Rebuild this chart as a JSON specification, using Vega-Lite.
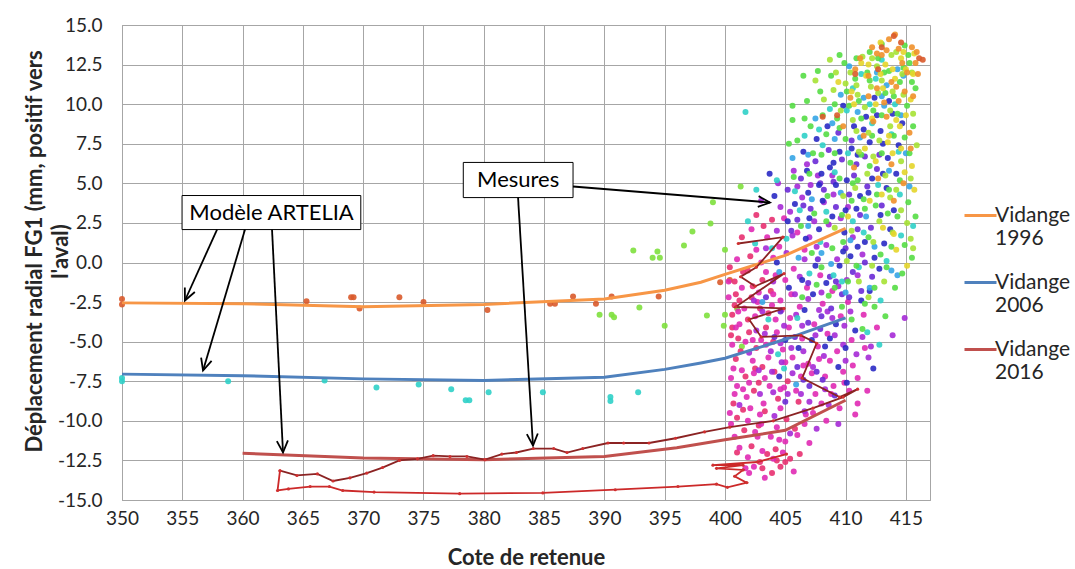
{
"$schema": "https://vega.github.io/schema/vega-lite/v6.json",
"width": 808, "height": 475,
"autosize": {"type": "none"},
"padding": {"left": 122, "top": 25, "right": 145, "bottom": 69},
"background": "white",
"config": {
 "font": "Lato",
 "view": {"stroke": "#a6a6a6", "strokeWidth": 1},
 "axis": {"gridColor": "#a6a6a6", "gridWidth": 1, "domainColor": "#a6a6a6", "ticks": false, "labelFont": "Lato", "labelFontSize": 19, "labelColor": "#262626", "titleFont": "Lato", "titleFontSize": 22, "titleFontWeight": "bold", "titleColor": "#262626", "labelOverlap": false, "labelFlush": false}
},
"datasets": {
 "pts": [
  {"x":350,"y":-2.3,"t":1996},{"x":350,"y":-2.65,"t":1996},{"x":365.3,"y":-2.45,"t":1996},{"x":369.2,"y":-2.2,"t":1996},{"x":369.7,"y":-2.9,"t":1996},{"x":373,"y":-2.2,"t":1996},{"x":375,"y":-2.5,"t":1996},{"x":380.3,"y":-3.0,"t":1996},{"x":385.5,"y":-2.6,"t":1996},{"x":385.9,"y":-2.6,"t":1996},{"x":387.4,"y":-2.15,"t":1996},{"x":389.3,"y":-2.6,"t":1996},{"x":390.6,"y":-2.15,"t":1996},{"x":394.5,"y":-2.15,"t":1996},{"x":399.6,"y":-1.25,"t":1996},{"x":400.4,"y":-1.1,"t":1996},{"x":369.0,"y":-2.2,"t":1996},
  {"x":350,"y":-7.3,"t":2006},{"x":350,"y":-7.5,"t":2006},{"x":358.8,"y":-7.5,"t":2006},{"x":366.8,"y":-7.45,"t":2006},{"x":371.1,"y":-7.9,"t":2006},{"x":374.6,"y":-7.7,"t":2006},{"x":377.3,"y":-8.0,"t":2006},{"x":378.5,"y":-8.7,"t":2006},{"x":378.8,"y":-8.7,"t":2006},{"x":380.4,"y":-8.2,"t":2006},{"x":384.9,"y":-8.2,"t":2006},{"x":390.5,"y":-8.5,"t":2006},{"x":390.5,"y":-8.75,"t":2006},{"x":392.8,"y":-8.2,"t":2006},{"x":401.7,"y":9.5,"t":2006},
  {"x":392.4,"y":0.76,"t":2003},{"x":394.4,"y":0.7,"t":2003},{"x":394,"y":0.3,"t":2003},{"x":394.6,"y":0.3,"t":2003},{"x":396.6,"y":1.07,"t":2003},{"x":397.3,"y":1.96,"t":2003},{"x":398.8,"y":2.46,"t":2003},{"x":399,"y":3.8,"t":2003},{"x":401.3,"y":4.8,"t":2003},{"x":400,"y":0.8,"t":2003},{"x":389.6,"y":-3.3,"t":2003},{"x":390.6,"y":-3.3,"t":2003},{"x":390.8,"y":-3.45,"t":2003},{"x":392.9,"y":-2.84,"t":2003},{"x":395,"y":-4.0,"t":2003},{"x":398.5,"y":-3.35,"t":2003},{"x":399.9,"y":-4.0,"t":2003},{"x":400,"y":-3.3,"t":2003},{"x":401.4,"y":-5.3,"t":2003},{"x":401,"y":-2.9,"t":2003},
  {"x":400.8,"y":-1.2,"t":2017},{"x":401.5,"y":-0.6,"t":2017},{"x":402.3,"y":-1.5,"t":2017},{"x":401.2,"y":-2.4,"t":2017},{"x":402.9,"y":-2.9,"t":2017},{"x":400.6,"y":-3.3,"t":2017},{"x":401.9,"y":-3.6,"t":2017},{"x":403.4,"y":-4.1,"t":2017},{"x":401.1,"y":-4.8,"t":2017},{"x":402.6,"y":-5.4,"t":2017},{"x":400.9,"y":-6.1,"t":2017},{"x":403.1,"y":-6.6,"t":2017},{"x":401.7,"y":-7.2,"t":2017},{"x":402.4,"y":-8.1,"t":2017},{"x":404.0,"y":-5.0,"t":2017},{"x":403.8,"y":-1.8,"t":2017},{"x":400.4,"y":-0.3,"t":2017},{"x":402.1,"y":0.4,"t":2017},{"x":401.4,"y":1.6,"t":2017},{"x":403.2,"y":2.3,"t":2017},{"x":402.6,"y":3.0,"t":2017},{"x":403.9,"y":2.7,"t":2017},{"x":401.0,"y":-9.8,"t":2017},{"x":402.2,"y":-11.6,"t":2017},{"x":403.5,"y":-12.1,"t":2017},{"x":404.2,"y":-11.8,"t":2017},{"x":402.9,"y":-12.6,"t":2017},{"x":404.6,"y":-12.9,"t":2017},{"x":403.9,"y":-13.3,"t":2017},{"x":405.4,"y":-12.4,"t":2017},{"x":406.2,"y":-12.1,"t":2017},{"x":401.6,"y":-10.6,"t":2017},{"x":400.7,"y":-8.9,"t":2017},{"x":403.3,"y":-9.4,"t":2017},{"x":404.4,"y":-8.6,"t":2017},{"x":405.1,"y":-9.9,"t":2017},{"x":400.9,"y":-2.0,"t":2017},{"x":402.0,"y":-4.4,"t":2017},{"x":403.6,"y":-3.2,"t":2017},{"x":401.3,"y":-5.6,"t":2017},{"x":400.5,"y":-4.6,"t":2017},{"x":402.8,"y":-7.6,"t":2017},{"x":404.1,"y":-6.9,"t":2017},{"x":405.2,"y":-7.5,"t":2017},{"x":406.1,"y":-8.8,"t":2017},{"x":405.8,"y":-10.5,"t":2017},
  {"x":401.9,"y":-0.5,"t":2017},{"x":403.1,"y":-1.1,"t":2017},{"x":400.6,"y":-4.1,"t":2017},{"x":402.5,"y":-6.7,"t":2017},{"x":401.5,"y":-9.3,"t":2017},{"x":402.8,"y":-10.3,"t":2017},{"x":404.3,"y":-12.5,"t":2017},{"x":403.1,"y":-13.0,"t":2017},{"x":405.0,"y":-12.6,"t":2017},{"x":401.0,"y":-12.0,"t":2017},{"x":400.8,"y":-2.7,"t":2017},{"x":402.2,"y":-2.2,"t":2017},
  {"x":400.6,"y":-5.2,"t":2016},{"x":401.4,"y":-6.8,"t":2016},{"x":402.1,"y":-9.2,"t":2016},{"x":403.0,"y":-10.2,"t":2016},{"x":400.8,"y":-11.0,"t":2016},{"x":401.9,"y":-12.3,"t":2016},{"x":402.7,"y":-11.0,"t":2016},{"x":404.3,"y":-10.4,"t":2016},{"x":405.0,"y":-11.3,"t":2016},{"x":406.0,"y":-10.9,"t":2016},{"x":406.7,"y":-9.6,"t":2016},{"x":407.5,"y":-8.3,"t":2016},{"x":408.3,"y":-7.2,"t":2016},{"x":406.9,"y":-6.4,"t":2016},{"x":405.6,"y":-6.0,"t":2016},{"x":404.8,"y":-5.5,"t":2016},{"x":403.7,"y":-7.8,"t":2016},{"x":402.3,"y":-6.2,"t":2016},{"x":401.0,"y":-7.8,"t":2016},{"x":400.4,"y":-9.5,"t":2016},{"x":401.8,"y":-8.5,"t":2016},{"x":403.2,"y":-8.9,"t":2016},{"x":404.6,"y":-9.2,"t":2016},{"x":405.9,"y":-8.1,"t":2016},{"x":407.2,"y":-7.0,"t":2016},{"x":408.0,"y":-8.9,"t":2016},{"x":409.0,"y":-7.8,"t":2016},{"x":408.7,"y":-6.2,"t":2016},{"x":407.7,"y":-5.3,"t":2016},{"x":406.4,"y":-4.8,"t":2016},{"x":405.3,"y":-4.1,"t":2016},{"x":404.2,"y":-3.6,"t":2016},{"x":403.0,"y":-4.9,"t":2016},{"x":402.5,"y":-3.4,"t":2016},{"x":401.6,"y":-2.9,"t":2016},{"x":400.3,"y":-2.2,"t":2016},{"x":401.0,"y":0.2,"t":2016},{"x":402.6,"y":0.8,"t":2016},{"x":404.0,"y":0.3,"t":2016},{"x":403.4,"y":-0.6,"t":2016},{"x":405.0,"y":-1.1,"t":2016},{"x":404.6,"y":-2.4,"t":2016},{"x":406.2,"y":-2.8,"t":2016},{"x":407.4,"y":-3.9,"t":2016},{"x":408.5,"y":-4.5,"t":2016},{"x":409.3,"y":-5.6,"t":2016},{"x":409.8,"y":-6.9,"t":2016},{"x":410.3,"y":-8.1,"t":2016},{"x":411.0,"y":-7.3,"t":2016},{"x":410.5,"y":-4.9,"t":2016},{"x":409.6,"y":-3.4,"t":2016},{"x":408.1,"y":-2.6,"t":2016},{"x":406.8,"y":-1.6,"t":2016},{"x":405.7,"y":-0.4,"t":2016},{"x":404.5,"y":1.0,"t":2016},{"x":403.5,"y":1.6,"t":2016},{"x":402.2,"y":2.1,"t":2016},{"x":404.9,"y":2.8,"t":2016},{"x":406.0,"y":1.9,"t":2016},{"x":401.7,"y":-13.0,"t":2016},{"x":403.3,"y":-13.6,"t":2016},{"x":405.7,"y":-13.2,"t":2016},{"x":404.0,"y":-12.4,"t":2016},{"x":402.5,"y":-10.7,"t":2016},{"x":404.9,"y":-7.9,"t":2016},{"x":406.3,"y":-7.2,"t":2016},{"x":403.9,"y":-2.7,"t":2016},{"x":402.8,"y":-1.9,"t":2016},{"x":401.2,"y":-3.9,"t":2016},{"x":400.5,"y":-7.3,"t":2016},{"x":407.0,"y":-11.4,"t":2016},{"x":408.4,"y":-10.0,"t":2016},{"x":409.5,"y":-9.2,"t":2016},{"x":410.8,"y":-9.6,"t":2016},{"x":405.5,"y":-2.0,"t":2016},{"x":406.6,"y":0.8,"t":2016},{"x":407.9,"y":-0.8,"t":2016},{"x":408.9,"y":-1.8,"t":2016},{"x":410.2,"y":-2.5,"t":2016},{"x":411.5,"y":-3.3,"t":2016},{"x":412.6,"y":-4.1,"t":2016},{"x":411.6,"y":-5.4,"t":2016},{"x":411.0,"y":-8.9,"t":2016},{"x":411.8,"y":-8.1,"t":2016},
  {"x":400.9,"y":-4.1,"t":2016},{"x":401.7,"y":-5.0,"t":2016},{"x":402.4,"y":-7.0,"t":2016},{"x":403.6,"y":-6.0,"t":2016},{"x":404.3,"y":-4.4,"t":2016},{"x":400.7,"y":-6.7,"t":2016},{"x":401.5,"y":-8.0,"t":2016},{"x":402.9,"y":-9.6,"t":2016},{"x":403.8,"y":-11.0,"t":2016},{"x":401.2,"y":-11.7,"t":2016},{"x":402.0,"y":-13.3,"t":2016},{"x":404.8,"y":-12.0,"t":2016},{"x":400.5,"y":-10.2,"t":2016},{"x":401.9,"y":-10.0,"t":2016},{"x":403.4,"y":-5.2,"t":2016},{"x":404.7,"y":-3.0,"t":2016},{"x":402.7,"y":-2.5,"t":2016},{"x":401.4,"y":-1.6,"t":2016},{"x":400.3,"y":-1.2,"t":2016},{"x":403.0,"y":0.0,"t":2016},{"x":404.2,"y":-0.8,"t":2016},{"x":405.4,"y":-3.5,"t":2016},{"x":406.5,"y":-6.5,"t":2016},{"x":407.8,"y":-6.1,"t":2016},{"x":405.0,"y":-6.3,"t":2016},{"x":406.6,"y":-10.2,"t":2016},{"x":404.5,"y":-11.2,"t":2016},{"x":403.1,"y":-11.9,"t":2016},{"x":402.4,"y":-12.9,"t":2016},{"x":407.3,"y":-9.5,"t":2016},{"x":408.8,"y":-8.3,"t":2016},{"x":409.9,"y":-7.6,"t":2016},{"x":410.6,"y":-6.5,"t":2016},{"x":400.8,"y":-8.3,"t":2016},{"x":402.0,"y":-7.6,"t":2016},{"x":403.3,"y":-7.3,"t":2016},{"x":404.6,"y":-8.0,"t":2016},{"x":401.1,"y":-3.1,"t":2016},{"x":402.3,"y":-4.9,"t":2016},{"x":404.0,"y":-2.0,"t":2016},
  {"x":402.6,"y":-4.3,"t":2014},{"x":403.8,"y":-5.6,"t":2014},{"x":404.7,"y":-6.3,"t":2014},{"x":405.6,"y":-7.0,"t":2014},{"x":406.5,"y":-5.6,"t":2014},{"x":407.3,"y":-6.6,"t":2014},{"x":408.2,"y":-5.9,"t":2014},{"x":409.1,"y":-4.6,"t":2014},{"x":407.8,"y":-3.0,"t":2014},{"x":406.9,"y":-2.3,"t":2014},{"x":405.9,"y":-3.3,"t":2014},{"x":404.9,"y":-4.0,"t":2014},{"x":403.9,"y":-6.9,"t":2014},{"x":402.9,"y":-8.3,"t":2014},{"x":404.1,"y":-9.7,"t":2014},{"x":405.4,"y":-10.8,"t":2014},{"x":406.6,"y":-9.4,"t":2014},{"x":407.6,"y":-10.5,"t":2014},{"x":408.6,"y":-9.0,"t":2014},{"x":409.4,"y":-10.2,"t":2014},{"x":410.0,"y":-6.2,"t":2014},{"x":410.9,"y":-5.8,"t":2014},{"x":411.9,"y":-6.0,"t":2014},{"x":413.9,"y":-4.6,"t":2014},{"x":414.9,"y":-3.5,"t":2014},{"x":403.4,"y":0.9,"t":2014},{"x":404.3,"y":2.0,"t":2014},{"x":405.4,"y":3.2,"t":2014},{"x":406.4,"y":4.1,"t":2014},{"x":407.4,"y":2.6,"t":2014},{"x":408.4,"y":1.1,"t":2014},{"x":409.3,"y":0.2,"t":2014},{"x":410.1,"y":-1.1,"t":2014},{"x":406.2,"y":-0.9,"t":2014},{"x":405.1,"y":0.6,"t":2014},{"x":404.0,"y":-1.2,"t":2014},{"x":403.1,"y":-3.1,"t":2014},{"x":407.1,"y":4.9,"t":2014},{"x":408.2,"y":3.8,"t":2014},{"x":409.6,"y":2.8,"t":2014},{"x":410.6,"y":1.6,"t":2014},{"x":411.4,"y":0.5,"t":2014},{"x":402.0,"y":-5.7,"t":2014},{"x":401.2,"y":-9.0,"t":2014},{"x":403.0,"y":3.9,"t":2014},{"x":404.4,"y":5.0,"t":2014},{"x":405.7,"y":5.8,"t":2014},{"x":406.8,"y":6.2,"t":2014},{"x":408.9,"y":5.5,"t":2014},{"x":407.6,"y":1.0,"t":2014},{"x":406.3,"y":-8.3,"t":2014},{"x":408.9,"y":-3.5,"t":2014},{"x":409.9,"y":-4.0,"t":2014},{"x":410.4,"y":-3.1,"t":2014},
  {"x":402.4,"y":-2.4,"t":2014},{"x":403.3,"y":-4.5,"t":2014},{"x":404.6,"y":-5.1,"t":2014},{"x":405.5,"y":-5.4,"t":2014},{"x":406.4,"y":-4.0,"t":2014},{"x":407.5,"y":-4.6,"t":2014},{"x":408.5,"y":-3.1,"t":2014},{"x":409.4,"y":-1.5,"t":2014},{"x":408.0,"y":-1.9,"t":2014},{"x":406.6,"y":0.2,"t":2014},{"x":405.6,"y":1.7,"t":2014},{"x":404.6,"y":3.5,"t":2014},{"x":406.0,"y":4.8,"t":2014},{"x":407.7,"y":5.5,"t":2014},{"x":409.0,"y":4.3,"t":2014},{"x":410.2,"y":3.5,"t":2014},{"x":411.0,"y":-0.8,"t":2014},{"x":405.2,"y":-8.3,"t":2014},{"x":407.0,"y":-8.8,"t":2014},{"x":408.3,"y":-8.0,"t":2014},{"x":402.8,"y":-6.8,"t":2014},{"x":404.0,"y":-8.2,"t":2014},{"x":409.8,"y":-5.2,"t":2014},{"x":411.4,"y":-4.7,"t":2014},{"x":412.1,"y":-5.3,"t":2014},{"x":408.6,"y":2.4,"t":2014},{"x":407.0,"y":1.6,"t":2014},{"x":405.8,"y":-2.0,"t":2014},
  {"x":404.6,"y":-3.1,"t":2012},{"x":405.8,"y":-4.7,"t":2012},{"x":406.9,"y":-3.8,"t":2012},{"x":407.9,"y":-4.2,"t":2012},{"x":408.8,"y":-2.9,"t":2012},{"x":409.7,"y":-2.0,"t":2012},{"x":410.6,"y":-0.6,"t":2012},{"x":411.3,"y":-1.8,"t":2012},{"x":412.2,"y":-0.9,"t":2012},{"x":406.0,"y":2.7,"t":2012},{"x":407.1,"y":3.4,"t":2012},{"x":408.2,"y":4.6,"t":2012},{"x":409.2,"y":3.5,"t":2012},{"x":410.3,"y":4.3,"t":2012},{"x":411.2,"y":3.0,"t":2012},{"x":412.1,"y":2.2,"t":2012},{"x":405.2,"y":4.6,"t":2012},{"x":406.3,"y":5.3,"t":2012},{"x":407.5,"y":6.4,"t":2012},{"x":408.6,"y":7.1,"t":2012},{"x":409.7,"y":6.5,"t":2012},{"x":410.7,"y":5.5,"t":2012},{"x":411.6,"y":6.7,"t":2012},{"x":412.6,"y":5.9,"t":2012},{"x":405.0,"y":-8.8,"t":2012},{"x":406.0,"y":-6.6,"t":2012},{"x":407.0,"y":-7.8,"t":2012},{"x":408.1,"y":-7.4,"t":2012},{"x":409.1,"y":-8.4,"t":2012},{"x":404.1,"y":-4.7,"t":2012},{"x":403.4,"y":-2.2,"t":2012},{"x":407.7,"y":0.2,"t":2012},{"x":408.7,"y":-0.9,"t":2012},{"x":410.0,"y":0.9,"t":2012},{"x":411.0,"y":2.1,"t":2012},{"x":413.0,"y":3.6,"t":2012},{"x":409.4,"y":8.2,"t":2012},{"x":410.5,"y":7.7,"t":2012},
  {"x":406.5,"y":3.6,"t":2012},{"x":407.9,"y":5.0,"t":2012},{"x":409.0,"y":5.1,"t":2012},{"x":410.9,"y":6.2,"t":2012},{"x":411.8,"y":4.8,"t":2012},{"x":412.8,"y":6.8,"t":2012},{"x":408.0,"y":-3.4,"t":2012},{"x":409.2,"y":-1.2,"t":2012},{"x":410.3,"y":-2.2,"t":2012},{"x":411.6,"y":0.0,"t":2012},{"x":406.5,"y":-7.4,"t":2012},{"x":407.6,"y":-6.9,"t":2012},{"x":405.5,"y":2.0,"t":2012},{"x":406.9,"y":-1.3,"t":2012},
  {"x":405.3,"y":-1.6,"t":2010},{"x":406.4,"y":-1.1,"t":2010},{"x":407.3,"y":-2.0,"t":2010},{"x":408.4,"y":-1.3,"t":2010},{"x":409.5,"y":-0.2,"t":2010},{"x":410.4,"y":0.4,"t":2010},{"x":411.6,"y":1.3,"t":2010},{"x":412.4,"y":0.3,"t":2010},{"x":413.2,"y":1.2,"t":2010},{"x":406.7,"y":1.5,"t":2010},{"x":407.8,"y":2.1,"t":2010},{"x":408.9,"y":2.9,"t":2010},{"x":409.9,"y":1.9,"t":2010},{"x":410.9,"y":3.4,"t":2010},{"x":411.9,"y":4.4,"t":2010},{"x":412.9,"y":3.0,"t":2010},{"x":413.7,"y":2.1,"t":2010},{"x":405.8,"y":3.7,"t":2010},{"x":406.9,"y":4.4,"t":2010},{"x":408.0,"y":5.6,"t":2010},{"x":409.0,"y":6.3,"t":2010},{"x":410.1,"y":5.2,"t":2010},{"x":411.0,"y":6.8,"t":2010},{"x":412.0,"y":7.6,"t":2010},{"x":412.9,"y":8.3,"t":2010},{"x":413.5,"y":6.6,"t":2010},{"x":414.4,"y":7.4,"t":2010},{"x":413.9,"y":9.4,"t":2010},{"x":414.7,"y":8.8,"t":2010},{"x":411.7,"y":9.2,"t":2010},{"x":410.7,"y":8.6,"t":2010},{"x":409.8,"y":9.9,"t":2010},{"x":412.4,"y":10.4,"t":2010},{"x":407.2,"y":-4.9,"t":2010},{"x":408.3,"y":-5.3,"t":2010},{"x":409.4,"y":-6.6,"t":2010},{"x":410.1,"y":-7.6,"t":2010},{"x":405.0,"y":-4.9,"t":2010},{"x":404.5,"y":-7.2,"t":2010},{"x":406.1,"y":-5.4,"t":2010},{"x":412.3,"y":-6.7,"t":2010},{"x":404.1,"y":4.2,"t":2010},{"x":403.7,"y":5.6,"t":2010},{"x":406.5,"y":7.0,"t":2010},{"x":407.6,"y":7.8,"t":2010},{"x":408.5,"y":8.6,"t":2010},{"x":413.4,"y":4.7,"t":2010},{"x":414.2,"y":5.6,"t":2010},{"x":411.3,"y":-2.4,"t":2010},{"x":410.8,"y":-4.3,"t":2010},{"x":409.2,"y":-3.9,"t":2010},{"x":407.5,"y":-0.2,"t":2010},
  {"x":407.0,"y":2.8,"t":2010},{"x":408.1,"y":3.9,"t":2010},{"x":409.2,"y":4.9,"t":2010},{"x":410.0,"y":3.3,"t":2010},{"x":411.2,"y":4.2,"t":2010},{"x":412.2,"y":5.3,"t":2010},{"x":413.1,"y":5.6,"t":2010},{"x":410.5,"y":7.2,"t":2010},{"x":411.5,"y":8.4,"t":2010},{"x":412.6,"y":9.3,"t":2010},{"x":413.6,"y":10.2,"t":2010},{"x":409.5,"y":7.0,"t":2010},{"x":408.7,"y":6.0,"t":2010},{"x":407.8,"y":4.9,"t":2010},{"x":406.8,"y":5.8,"t":2010},{"x":405.2,"y":2.6,"t":2010},{"x":404.3,"y":0.0,"t":2010},{"x":409.8,"y":0.7,"t":2010},{"x":411.0,"y":1.0,"t":2010},{"x":412.0,"y":-1.8,"t":2010},{"x":408.7,"y":-4.8,"t":2010},{"x":410.0,"y":-5.4,"t":2010},{"x":406.6,"y":-3.0,"t":2010},{"x":412.8,"y":-0.4,"t":2010},{"x":414.0,"y":3.3,"t":2010},{"x":413.1,"y":7.5,"t":2010},
  {"x":404.3,"y":5.2,"t":2006},{"x":405.6,"y":6.6,"t":2008},{"x":406.6,"y":8.0,"t":2006},{"x":407.5,"y":9.1,"t":2008},{"x":408.7,"y":9.7,"t":2006},{"x":409.6,"y":10.6,"t":2008},{"x":410.6,"y":11.0,"t":2006},{"x":411.5,"y":10.4,"t":2008},{"x":412.5,"y":11.6,"t":2006},{"x":413.4,"y":11.2,"t":2008},{"x":414.1,"y":10.0,"t":2006},{"x":414.8,"y":11.8,"t":2008},{"x":408.1,"y":7.4,"t":2006},{"x":409.1,"y":7.8,"t":2008},{"x":410.2,"y":6.9,"t":2006},{"x":411.2,"y":7.9,"t":2008},{"x":412.2,"y":8.8,"t":2006},{"x":413.2,"y":9.9,"t":2008},{"x":406.2,"y":3.3,"t":2006},{"x":407.2,"y":4.0,"t":2008},{"x":408.4,"y":3.2,"t":2006},{"x":409.6,"y":4.4,"t":2008},{"x":410.6,"y":2.6,"t":2006},{"x":411.7,"y":2.9,"t":2008},{"x":412.7,"y":4.9,"t":2006},{"x":413.6,"y":5.8,"t":2008},{"x":414.5,"y":4.3,"t":2006},{"x":415.0,"y":6.9,"t":2008},{"x":405.1,"y":1.5,"t":2006},{"x":406.1,"y":0.3,"t":2008},{"x":407.0,"y":-0.7,"t":2006},{"x":408.0,"y":0.6,"t":2008},{"x":409.0,"y":-0.8,"t":2006},{"x":410.0,"y":-1.9,"t":2008},{"x":411.1,"y":-0.3,"t":2006},{"x":412.0,"y":-1.6,"t":2008},{"x":412.9,"y":-2.4,"t":2006},{"x":413.8,"y":-0.5,"t":2008},{"x":414.6,"y":1.7,"t":2006},{"x":403.6,"y":-3.6,"t":2006},{"x":404.5,"y":-0.6,"t":2008},{"x":402.5,"y":1.2,"t":2006},{"x":401.9,"y":2.6,"t":2006},{"x":402.6,"y":4.6,"t":2006},{"x":412.8,"y":-5.2,"t":2006},{"x":411.8,"y":-4.4,"t":2006},{"x":406.0,"y":-3.5,"t":2006},{"x":404.9,"y":-6.7,"t":2006},{"x":415.6,"y":2.3,"t":2006},{"x":410.3,"y":12.4,"t":2008},{"x":413.0,"y":12.8,"t":2006},{"x":414.3,"y":12.2,"t":2008},
  {"x":407.8,"y":8.4,"t":2006},{"x":408.9,"y":8.8,"t":2008},{"x":410.1,"y":9.6,"t":2006},{"x":411.0,"y":9.5,"t":2008},{"x":412.0,"y":10.0,"t":2006},{"x":413.0,"y":10.5,"t":2008},{"x":413.8,"y":8.1,"t":2006},{"x":414.6,"y":9.3,"t":2008},{"x":405.8,"y":4.5,"t":2006},{"x":406.9,"y":6.8,"t":2008},{"x":409.1,"y":5.7,"t":2006},{"x":410.4,"y":1.4,"t":2008},{"x":411.5,"y":1.9,"t":2006},{"x":412.4,"y":1.0,"t":2008},{"x":413.4,"y":0.1,"t":2006},{"x":414.3,"y":-0.8,"t":2008},{"x":409.7,"y":-1.2,"t":2006},{"x":408.8,"y":-0.1,"t":2008},{"x":407.9,"y":1.3,"t":2006},{"x":406.9,"y":2.3,"t":2008},{"x":403.9,"y":0.9,"t":2006},{"x":403.1,"y":-2.5,"t":2008},{"x":404.4,"y":-5.8,"t":2006},{"x":405.9,"y":-7.7,"t":2008},{"x":411.3,"y":11.9,"t":2006},{"x":412.6,"y":12.0,"t":2008},{"x":414.4,"y":7.0,"t":2006},{"x":415.3,"y":4.8,"t":2008},
  {"x":405.6,"y":9.0,"t":2004},{"x":406.8,"y":10.2,"t":2004},{"x":407.9,"y":10.8,"t":2004},{"x":408.8,"y":11.8,"t":2004},{"x":409.9,"y":12.6,"t":2004},{"x":410.8,"y":11.6,"t":2004},{"x":411.8,"y":12.0,"t":2004},{"x":412.7,"y":12.9,"t":2004},{"x":413.6,"y":12.1,"t":2004},{"x":414.5,"y":11.4,"t":2004},{"x":415.3,"y":12.6,"t":2004},{"x":408.4,"y":8.1,"t":2004},{"x":409.3,"y":9.1,"t":2004},{"x":410.3,"y":9.9,"t":2004},{"x":411.3,"y":9.1,"t":2004},{"x":412.3,"y":9.6,"t":2004},{"x":413.3,"y":10.7,"t":2004},{"x":414.3,"y":9.4,"t":2004},{"x":415.1,"y":9.9,"t":2004},{"x":407.0,"y":5.6,"t":2004},{"x":408.0,"y":6.8,"t":2004},{"x":409.1,"y":6.9,"t":2004},{"x":410.0,"y":7.8,"t":2004},{"x":411.0,"y":5.2,"t":2004},{"x":412.0,"y":6.1,"t":2004},{"x":413.0,"y":6.9,"t":2004},{"x":414.0,"y":8.0,"t":2004},{"x":414.9,"y":7.9,"t":2004},{"x":415.6,"y":8.6,"t":2004},{"x":406.3,"y":2.3,"t":2004},{"x":407.4,"y":3.1,"t":2004},{"x":408.5,"y":4.2,"t":2004},{"x":409.5,"y":5.3,"t":2004},{"x":410.5,"y":3.9,"t":2004},{"x":411.5,"y":4.0,"t":2004},{"x":412.5,"y":3.6,"t":2004},{"x":413.5,"y":3.1,"t":2004},{"x":414.3,"y":2.9,"t":2004},{"x":415.2,"y":3.8,"t":2004},{"x":408.9,"y":0.9,"t":2004},{"x":409.8,"y":1.3,"t":2004},{"x":410.9,"y":-0.2,"t":2004},{"x":411.9,"y":1.6,"t":2004},{"x":412.9,"y":0.5,"t":2004},{"x":413.8,"y":1.0,"t":2004},{"x":414.7,"y":-0.7,"t":2004},{"x":415.5,"y":0.3,"t":2004},{"x":407.6,"y":-1.4,"t":2004},{"x":408.6,"y":-2.1,"t":2004},{"x":409.7,"y":-2.8,"t":2004},{"x":410.5,"y":-3.6,"t":2004},{"x":411.4,"y":-4.2,"t":2004},{"x":412.4,"y":-2.8,"t":2004},{"x":413.3,"y":-3.4,"t":2004},{"x":414.1,"y":-1.6,"t":2004},{"x":406.4,"y":-2.2,"t":2004},{"x":405.7,"y":5.4,"t":2004},{"x":405.3,"y":7.5,"t":2004},{"x":406.5,"y":11.8,"t":2004},{"x":409.5,"y":13.1,"t":2004},{"x":412.0,"y":13.3,"t":2004},{"x":414.9,"y":13.7,"t":2004},{"x":415.8,"y":11.0,"t":2004},{"x":407.3,"y":6.9,"t":2004},{"x":406.0,"y":7.7,"t":2004},
  {"x":407.1,"y":8.6,"t":2004},{"x":408.1,"y":9.3,"t":2004},{"x":409.1,"y":10.0,"t":2004},{"x":410.1,"y":10.8,"t":2004},{"x":411.1,"y":10.2,"t":2004},{"x":412.0,"y":11.5,"t":2004},{"x":413.0,"y":9.3,"t":2004},{"x":414.0,"y":10.5,"t":2004},{"x":414.8,"y":12.3,"t":2004},{"x":415.5,"y":11.4,"t":2004},{"x":413.2,"y":12.0,"t":2004},{"x":412.2,"y":8.0,"t":2004},{"x":411.3,"y":6.8,"t":2004},{"x":410.4,"y":6.3,"t":2004},{"x":409.5,"y":8.5,"t":2004},{"x":410.6,"y":5.0,"t":2004},{"x":411.6,"y":3.4,"t":2004},{"x":412.6,"y":4.3,"t":2004},{"x":413.6,"y":4.6,"t":2004},{"x":414.5,"y":5.2,"t":2004},{"x":415.3,"y":6.9,"t":2004},{"x":415.8,"y":2.9,"t":2004},{"x":414.9,"y":1.1,"t":2004},{"x":413.4,"y":-0.3,"t":2004},{"x":412.4,"y":-1.6,"t":2004},{"x":411.6,"y":-2.6,"t":2004},{"x":410.2,"y":-1.2,"t":2004},{"x":409.1,"y":-1.6,"t":2004},{"x":408.0,"y":-0.3,"t":2004},{"x":407.2,"y":0.6,"t":2004},{"x":406.6,"y":9.1,"t":2004},{"x":405.6,"y":9.9,"t":2004},{"x":407.7,"y":12.1,"t":2004},{"x":410.9,"y":12.9,"t":2004},{"x":413.0,"y":13.8,"t":2004},{"x":415.2,"y":13.1,"t":2004},{"x":409.7,"y":3.0,"t":2004},{"x":408.4,"y":2.6,"t":2004},
  {"x":409.0,"y":10.9,"t":2002},{"x":410.0,"y":11.3,"t":2002},{"x":411.0,"y":10.6,"t":2002},{"x":412.1,"y":11.1,"t":2002},{"x":413.0,"y":11.5,"t":2002},{"x":413.9,"y":10.8,"t":2002},{"x":414.8,"y":10.6,"t":2002},{"x":415.5,"y":12.0,"t":2002},{"x":412.6,"y":12.4,"t":2002},{"x":411.4,"y":13.0,"t":2002},{"x":410.4,"y":12.0,"t":2002},{"x":413.8,"y":13.1,"t":2002},{"x":408.7,"y":12.8,"t":2002},{"x":410.9,"y":8.3,"t":2002},{"x":411.9,"y":8.2,"t":2002},{"x":412.8,"y":7.7,"t":2002},{"x":413.7,"y":8.6,"t":2002},{"x":414.6,"y":6.4,"t":2002},{"x":415.4,"y":5.3,"t":2002},{"x":409.8,"y":4.2,"t":2002},{"x":410.8,"y":4.7,"t":2002},{"x":411.8,"y":5.6,"t":2002},{"x":412.8,"y":2.6,"t":2002},{"x":413.7,"y":4.1,"t":2002},{"x":414.6,"y":3.3,"t":2002},{"x":415.4,"y":1.5,"t":2002},{"x":409.1,"y":2.2,"t":2002},{"x":410.1,"y":0.1,"t":2002},{"x":411.1,"y":-1.2,"t":2002},{"x":412.2,"y":-0.2,"t":2002},{"x":413.2,"y":-1.2,"t":2002},{"x":407.5,"y":11.5,"t":2002},{"x":408.2,"y":10.3,"t":2002},{"x":415.9,"y":7.4,"t":2002},{"x":414.2,"y":13.3,"t":2002},
  {"x":409.6,"y":9.6,"t":2002},{"x":410.6,"y":9.0,"t":2002},{"x":411.6,"y":9.8,"t":2002},{"x":412.7,"y":10.7,"t":2002},{"x":413.7,"y":9.6,"t":2002},{"x":414.7,"y":11.9,"t":2002},{"x":415.6,"y":9.4,"t":2002},{"x":412.2,"y":12.9,"t":2002},{"x":410.9,"y":11.2,"t":2002},{"x":409.2,"y":12.0,"t":2002},{"x":411.1,"y":7.0,"t":2002},{"x":412.3,"y":6.7,"t":2002},{"x":413.3,"y":5.5,"t":2002},{"x":414.2,"y":4.6,"t":2002},{"x":415.1,"y":2.5,"t":2002},{"x":413.9,"y":1.9,"t":2002},{"x":412.3,"y":1.3,"t":2002},{"x":410.5,"y":2.0,"t":2002},{"x":411.9,"y":-2.2,"t":2002},{"x":415.6,"y":0.9,"t":2002},
  {"x":410.7,"y":10.0,"t":2000},{"x":411.7,"y":11.8,"t":2000},{"x":412.5,"y":10.0,"t":2000},{"x":413.3,"y":12.5,"t":2000},{"x":414.1,"y":11.6,"t":2000},{"x":415.0,"y":12.2,"t":2000},{"x":415.7,"y":13.2,"t":2000},{"x":414.5,"y":8.6,"t":2000},{"x":413.5,"y":7.6,"t":2000},{"x":412.5,"y":6.4,"t":2000},{"x":411.6,"y":7.2,"t":2000},{"x":410.5,"y":10.8,"t":2000},{"x":413.9,"y":6.9,"t":2000},{"x":414.9,"y":5.7,"t":2000},{"x":415.7,"y":4.6,"t":2000},{"x":412.0,"y":3.9,"t":2000},{"x":413.1,"y":2.2,"t":2000},{"x":414.2,"y":0.8,"t":2000},{"x":415.1,"y":-0.2,"t":2000},{"x":411.3,"y":12.6,"t":2000},{"x":409.4,"y":11.4,"t":2000},{"x":414.6,"y":12.9,"t":2000},{"x":412.9,"y":13.9,"t":2000},{"x":415.4,"y":10.3,"t":2000},{"x":410.2,"y":2.9,"t":2000},
  {"x":411.9,"y":12.5,"t":2000},{"x":412.9,"y":11.9,"t":2000},{"x":413.9,"y":12.2,"t":2000},{"x":414.8,"y":13.3,"t":2000},{"x":415.6,"y":11.9,"t":2000},{"x":413.1,"y":11.0,"t":2000},{"x":414.2,"y":9.0,"t":2000},{"x":415.0,"y":9.3,"t":2000},{"x":412.2,"y":9.1,"t":2000},{"x":413.6,"y":8.0,"t":2000},{"x":414.6,"y":7.2,"t":2000},{"x":415.5,"y":6.1,"t":2000},{"x":413.0,"y":4.3,"t":2000},{"x":414.0,"y":1.8,"t":2000},
  {"x":411.2,"y":12.9,"t":1998},{"x":412.2,"y":13.6,"t":1998},{"x":413.0,"y":13.1,"t":1998},{"x":413.6,"y":14.1,"t":1998},{"x":414.1,"y":14.4,"t":1998},{"x":414.7,"y":12.6,"t":1998},{"x":415.5,"y":13.6,"t":1998},{"x":412.6,"y":11.0,"t":1998},{"x":413.8,"y":11.4,"t":1998},{"x":414.9,"y":10.8,"t":1998},{"x":415.8,"y":12.6,"t":1998},{"x":410.8,"y":12.2,"t":1998},{"x":411.9,"y":10.5,"t":1998},{"x":413.4,"y":9.2,"t":1998},{"x":414.4,"y":10.2,"t":1998},{"x":415.3,"y":8.2,"t":1998},{"x":414.0,"y":3.9,"t":1998},{"x":414.8,"y":5.0,"t":1998},{"x":412.7,"y":5.3,"t":1998},{"x":410.7,"y":6.0,"t":1998},{"x":416.0,"y":11.9,"t":1998},{"x":409.8,"y":8.6,"t":1998},{"x":411.5,"y":8.0,"t":1998},
  {"x":412.6,"y":13.2,"t":1998},{"x":413.4,"y":13.4,"t":1998},{"x":414.4,"y":13.5,"t":1998},{"x":415.1,"y":12.0,"t":1998},{"x":415.9,"y":13.3,"t":1998},{"x":413.2,"y":10.1,"t":1998},{"x":414.2,"y":11.1,"t":1998},{"x":415.6,"y":10.5,"t":1998},{"x":411.9,"y":11.8,"t":1998},{"x":410.4,"y":10.4,"t":1998},{"x":415.4,"y":7.2,"t":1998},{"x":413.8,"y":6.2,"t":1998},{"x":412.3,"y":8.9,"t":1998},
  {"x":416.1,"y":12.9,"t":1996},{"x":414.6,"y":13.9,"t":1996},{"x":412.7,"y":12.2,"t":1996},{"x":409.3,"y":9.3,"t":1996},{"x":408.1,"y":9.2,"t":1996},{"x":410.8,"y":11.9,"t":1996},{"x":416.4,"y":12.8,"t":1996},{"x":413.0,"y":13.6,"t":1996},{"x":414.0,"y":14.3,"t":1996}
 ],
 "mod": [
  {"s":"Vidange 1996","x":350,"y":-2.55},{"s":"Vidange 1996","x":360,"y":-2.6},{"s":"Vidange 1996","x":370,"y":-2.8},{"s":"Vidange 1996","x":380,"y":-2.65},{"s":"Vidange 1996","x":390,"y":-2.3},{"s":"Vidange 1996","x":395,"y":-1.75},{"s":"Vidange 1996","x":398,"y":-1.25},{"s":"Vidange 1996","x":400,"y":-0.75},{"s":"Vidange 1996","x":405,"y":0.45},{"s":"Vidange 1996","x":410,"y":2.15},
  {"s":"Vidange 2006","x":350,"y":-7.05},{"s":"Vidange 2006","x":360,"y":-7.15},{"s":"Vidange 2006","x":370,"y":-7.35},{"s":"Vidange 2006","x":380,"y":-7.45},{"s":"Vidange 2006","x":390,"y":-7.25},{"s":"Vidange 2006","x":395,"y":-6.75},{"s":"Vidange 2006","x":398,"y":-6.35},{"s":"Vidange 2006","x":400,"y":-6.05},{"s":"Vidange 2006","x":405,"y":-4.85},{"s":"Vidange 2006","x":410,"y":-3.5},
  {"s":"Vidange 2016","x":360,"y":-12.05},{"s":"Vidange 2016","x":370,"y":-12.35},{"s":"Vidange 2016","x":380,"y":-12.45},{"s":"Vidange 2016","x":390,"y":-12.25},{"s":"Vidange 2016","x":396,"y":-11.7},{"s":"Vidange 2016","x":400,"y":-11.2},{"s":"Vidange 2016","x":405,"y":-10.6},{"s":"Vidange 2016","x":410,"y":-8.7}
 ],
 "mes": [
  {"g":"m1","i":1,"x":401.1,"y":1.2},{"g":"m1","i":2,"x":404.8,"y":1.6},{"g":"m1","i":3,"x":402.6,"y":-0.3},{"g":"m1","i":4,"x":401.3,"y":-0.9},{"g":"m1","i":5,"x":402.5,"y":-1.5},{"g":"m1","i":6,"x":404.9,"y":-0.7},{"g":"m1","i":7,"x":400.9,"y":-2.8},{"g":"m1","i":8,"x":404.9,"y":-2.9},{"g":"m1","i":9,"x":402.0,"y":-3.6},{"g":"m1","i":10,"x":403.0,"y":-4.7},{"g":"m1","i":11,"x":406.3,"y":-4.6},{"g":"m1","i":12,"x":407.6,"y":-5.1},{"g":"m1","i":13,"x":406.4,"y":-7.3},{"g":"m1","i":14,"x":409.5,"y":-8.5},{"g":"m1","i":15,"x":411.0,"y":-8.0},{"g":"m1","i":16,"x":409.8,"y":-8.5},{"g":"m1","i":17,"x":407.3,"y":-9.2},{"g":"m1","i":18,"x":404.0,"y":-10.0},{"g":"m1","i":19,"x":400.4,"y":-10.4},{"g":"m1","i":20,"x":398.3,"y":-10.7},{"g":"m1","i":21,"x":395.9,"y":-11.1},{"g":"m1","i":22,"x":393.7,"y":-11.4},{"g":"m1","i":23,"x":391.6,"y":-11.4},{"g":"m1","i":24,"x":390.3,"y":-11.4},{"g":"m1","i":25,"x":388.2,"y":-11.75},{"g":"m1","i":26,"x":386.9,"y":-12.0},{"g":"m1","i":27,"x":385.8,"y":-11.75},{"g":"m1","i":28,"x":384.1,"y":-11.75},{"g":"m1","i":29,"x":382.7,"y":-12.0},{"g":"m1","i":30,"x":381.5,"y":-12.1},{"g":"m1","i":31,"x":380.1,"y":-12.45},{"g":"m1","i":32,"x":378.6,"y":-12.25},{"g":"m1","i":33,"x":377.2,"y":-12.25},{"g":"m1","i":34,"x":375.8,"y":-12.2},{"g":"m1","i":35,"x":374.5,"y":-12.4},{"g":"m1","i":36,"x":373.0,"y":-12.5},{"g":"m1","i":37,"x":371.6,"y":-12.95},{"g":"m1","i":38,"x":370.3,"y":-13.3},{"g":"m1","i":39,"x":368.9,"y":-13.6},{"g":"m1","i":40,"x":367.5,"y":-13.8},{"g":"m1","i":41,"x":366.2,"y":-13.35},{"g":"m1","i":42,"x":364.5,"y":-13.45},{"g":"m1","i":43,"x":363.1,"y":-13.15},
  {"g":"m2","i":43,"x":363.1,"y":-13.15},{"g":"m2","i":44,"x":362.9,"y":-14.4},{"g":"m2","i":45,"x":363.8,"y":-14.3},{"g":"m2","i":46,"x":365.6,"y":-14.15},{"g":"m2","i":47,"x":367.2,"y":-14.15},{"g":"m2","i":48,"x":368.3,"y":-14.4},{"g":"m2","i":49,"x":370.9,"y":-14.5},{"g":"m2","i":50,"x":378.0,"y":-14.6},{"g":"m2","i":51,"x":384.9,"y":-14.55},{"g":"m2","i":52,"x":390.9,"y":-14.35},{"g":"m2","i":53,"x":396.1,"y":-14.15},{"g":"m2","i":54,"x":399.3,"y":-14.0},{"g":"m2","i":55,"x":400.2,"y":-14.2},{"g":"m2","i":56,"x":401.8,"y":-13.9},{"g":"m2","i":57,"x":400.8,"y":-13.5},{"g":"m2","i":58,"x":401.5,"y":-13.1},{"g":"m2","i":59,"x":399.3,"y":-13.0},{"g":"m2","i":60,"x":401.5,"y":-12.8},{"g":"m2","i":61,"x":399.0,"y":-12.8},{"g":"m2","i":62,"x":402.7,"y":-12.6},{"g":"m2","i":63,"x":405.1,"y":-12.1}
 ],
 "box": [
  {"label":"Modèle ARTELIA","x1":354.98,"x2":369.8,"y1":4.23,"y2":2.08,"tx":362.4,"ty":3.15},
  {"label":"Mesures","x1":378.3,"x2":387.4,"y1":6.32,"y2":4.1,"tx":382.85,"ty":5.2}
 ],
 "arr": [
  {"id":"a1s","i":1,"x":357.88,"y":2.08},{"id":"a1s","i":2,"x":355.22,"y":-2.4},
  {"id":"a1h","i":1,"x":356.04,"y":-1.86},{"id":"a1h","i":2,"x":355.22,"y":-2.4},{"id":"a1h","i":3,"x":355.21,"y":-1.58},
  {"id":"a2s","i":1,"x":360.2,"y":2.08},{"id":"a2s","i":2,"x":356.72,"y":-6.82},
  {"id":"a2h","i":1,"x":357.43,"y":-6.21},{"id":"a2h","i":2,"x":356.72,"y":-6.82},{"id":"a2h","i":3,"x":356.56,"y":-6.01},
  {"id":"a3s","i":1,"x":362.44,"y":2.08},{"id":"a3s","i":2,"x":363.35,"y":-12.0},
  {"id":"a3h","i":1,"x":363.76,"y":-11.24},{"id":"a3h","i":2,"x":363.35,"y":-12.0},{"id":"a3h","i":3,"x":362.84,"y":-11.28},
  {"id":"a4s","i":1,"x":387.4,"y":4.8},{"id":"a4s","i":2,"x":403.73,"y":3.79},
  {"id":"a4h","i":1,"x":402.79,"y":4.19},{"id":"a4h","i":2,"x":403.73,"y":3.79},{"id":"a4h","i":3,"x":402.72,"y":3.51},
  {"id":"a5s","i":1,"x":382.84,"y":4.11},{"id":"a5s","i":2,"x":384.08,"y":-11.56},
  {"id":"a5h","i":1,"x":384.48,"y":-10.8},{"id":"a5h","i":2,"x":384.08,"y":-11.56},{"id":"a5h","i":3,"x":383.57,"y":-10.84}
 ]
},
"layer": [
 {"data": {"name": "pts"},
  "mark": {"type": "circle", "size": 36, "opacity": 0.9},
  "encoding": {
   "x": {"field": "x", "type": "quantitative", "scale": {"domain": [350, 417], "nice": false, "zero": false},
     "axis": {"title": "Cote de retenue", "values": [350,355,360,365,370,375,380,385,390,395,400,405,410,415], "tickCount": 14, "labelPadding": 9, "titleY": 57, "titleBaseline": "middle"}},
   "y": {"field": "y", "type": "quantitative", "scale": {"domain": [-15, 15], "nice": false, "zero": false},
     "axis": {"title": ["Déplacement radial FG1 (mm, positif vers", "l'aval)"], "values": [-15,-12.5,-10,-7.5,-5,-2.5,0,2.5,5,7.5,10,12.5,15], "tickCount": 13, "labelExpr": "replace(format(datum.value, '.1f'), '\u2212', '-')", "labelPadding": 20, "titleX": -88, "titleY": 226, "titleAngle": -90, "titleBaseline": "middle", "titleAlign": "center", "titleLineHeight": 26}},
   "fill": {"field": "t", "type": "quantitative", "legend": null,
     "scale": {"domain": [1996,1998,2000,2002,2004,2006,2008,2010,2012,2014,2016,2017], "range": ["#d95a2b","#f0902a","#e4d52a","#a6e234","#55dd45","#2fd0c8","#35a5e6","#2a2ac4","#6a2ad6","#a52ad6","#e02ab4","#e83070"], "interpolate": "rgb"}}
  }},
 {"data": {"name": "mod"},
  "mark": {"type": "line", "strokeWidth": 3},
  "encoding": {
   "x": {"field": "x", "type": "quantitative"},
   "y": {"field": "y", "type": "quantitative"},
   "color": {"field": "s", "type": "nominal",
     "scale": {"domain": ["Vidange 1996", "Vidange 2006", "Vidange 2016"], "range": ["#f79646", "#4f81bd", "#c0504d"]},
     "legend": {"title": null, "orient": "none", "legendX": 841, "legendY": 173, "symbolType": "stroke", "symbolSize": 1024, "symbolStrokeWidth": 3, "labelFontSize": 21, "labelFont": "Lato", "labelColor": "#262626", "labelExpr": "split(datum.label, ' ')", "rowPadding": 16, "labelOffset": -3}}
  }},
 {"data": {"name": "mes"},
  "mark": {"type": "line", "strokeWidth": 1.8},
  "encoding": {
   "x": {"field": "x", "type": "quantitative"},
   "y": {"field": "y", "type": "quantitative"},
   "order": {"field": "i", "type": "quantitative"},
   "stroke": {"field": "g", "type": "nominal", "legend": null, "scale": {"domain": ["m1", "m2"], "range": ["#8b2323", "#cc2929"]}}
  }},
 {"data": {"name": "mes"},
  "mark": {"type": "circle", "size": 10, "color": "#d03030", "opacity": 1},
  "encoding": {
   "x": {"field": "x", "type": "quantitative"},
   "y": {"field": "y", "type": "quantitative"}
  }},
 {"data": {"name": "box"},
  "mark": {"type": "rect", "fill": "white", "stroke": "black", "strokeWidth": 1},
  "encoding": {
   "x": {"field": "x1", "type": "quantitative"}, "x2": {"field": "x2"},
   "y": {"field": "y1", "type": "quantitative"}, "y2": {"field": "y2"}
  }},
 {"data": {"name": "box"},
  "mark": {"type": "text", "fontSize": 22, "font": "Lato", "color": "black"},
  "encoding": {
   "x": {"field": "tx", "type": "quantitative"},
   "y": {"field": "ty", "type": "quantitative"},
   "text": {"field": "label"}
  }},
 {"data": {"name": "arr"},
  "mark": {"type": "line", "color": "black", "strokeWidth": 1.8},
  "encoding": {
   "x": {"field": "x", "type": "quantitative"},
   "y": {"field": "y", "type": "quantitative"},
   "detail": {"field": "id"},
   "order": {"field": "i", "type": "quantitative"}
  }}
]
}
